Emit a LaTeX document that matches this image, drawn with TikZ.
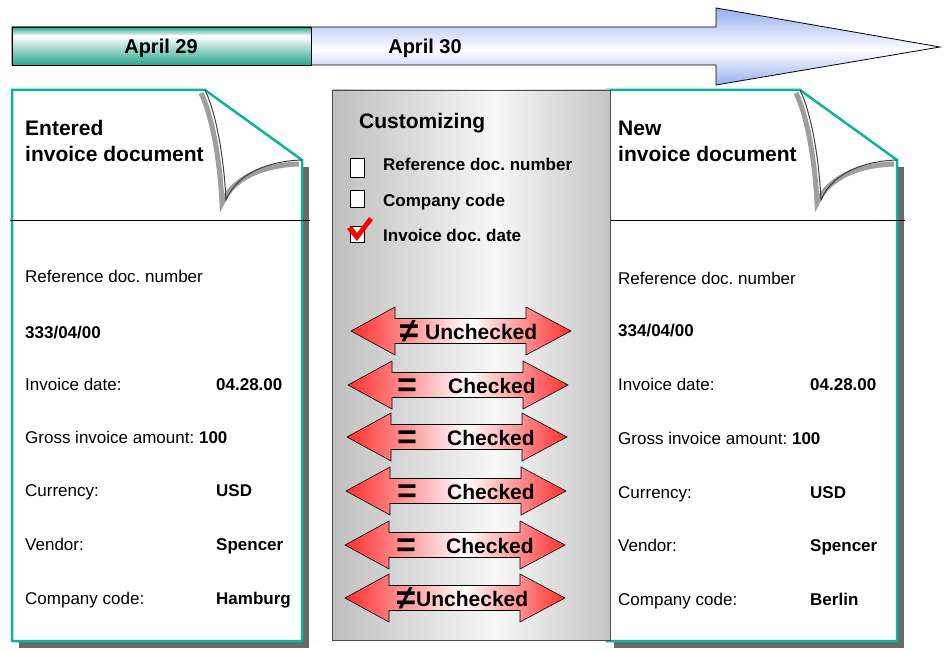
\documentclass[tikz,border=0pt]{standalone}
\usepackage{fontspec}
\setmainfont{Liberation Sans}
\usetikzlibrary{positioning}
\frenchspacing
\definecolor{docteal}{RGB}{10,180,160}
\definecolor{barteal}{RGB}{40,165,140}
\definecolor{barblue}{RGB}{150,172,242}
\definecolor{shadowgray}{RGB}{105,105,105}
\definecolor{cmpred}{RGB}{255,45,45}
\newcommand{\fs}[1]{\fontsize{#1}{#1}\selectfont}

\begin{document}
\begin{tikzpicture}[x=1pt,y=-1pt,
    doc/.style={fill=white,draw=docteal,line width=2.5pt,line join=miter},
    curl/.style={draw=black!75,line width=1pt},
    curlshade/.style={draw=black!38,line width=5pt},
    title/.style={anchor=base west,inner sep=0pt,font=\fs{21}\bfseries},
    txt/.style={anchor=base west,inner sep=0pt,font=\fs{17}},
    val/.style={anchor=base west,inner sep=0pt,font=\fs{17}\bfseries},
    day/.style={anchor=base,inner sep=0pt,font=\fs{20}\bfseries},
    sym/.style={anchor=base,inner sep=0pt,font=\fs{34}\bfseries},
    cmplbl/.style={anchor=base west,inner sep=0pt,font=\fs{21}\bfseries},
    cbox/.style={draw=black,fill=white,line width=0.6pt},
    tlpath/.style={insert path={(12,27) -- (716,27) -- (716,8) -- (940,47)
      -- (716,85) -- (716,65) -- (12,65) -- cycle}},
    cmppath/.style 2 args={insert path={(#1,#2) -- ++(44,-24) -- ++(0,11.5)
      -- ++(131,0) -- ++(0,-11.5) -- ++(45,24) -- ++(-45,24) -- ++(0,-11.5)
      -- ++(-131,0) -- ++(0,11.5) -- cycle}}]

  \useasboundingbox (0,0) rectangle (945,650);

  % time line
  \begin{scope}
    \clip[tlpath];
    \shade[top color=barblue,bottom color=white] (0,7) rectangle (945,50);
    \shade[top color=white,bottom color=barblue] (0,50) rectangle (945,86);
  \end{scope}
  \draw[line width=0.8pt,tlpath];
  \shade[top color=barteal,bottom color=white] (12,27) rectangle (311,36);
  \shade[top color=white,bottom color=barteal] (12,36) rectangle (311,65);
  \draw[line width=0.8pt] (12,27) rectangle (311,65);
  \node[day] (d1) at (161,54) {April 29};
  \node[day] (d2) at (425,54) {April 30};

  % the two documents
  \foreach \dx in {0,595} {
    \begin{scope}[shift={(\dx,0)}]
      \fill[shadowgray] (19,167) rectangle (309,648);
      \draw[doc] (12,90) -- (205,90) -- (302,160) -- (302,641) -- (12,641) -- cycle;
      \draw[curlshade] (201,93) .. controls (213,118) and (220,163) .. (222,203)
        .. controls (234,176) and (266,165) .. (299,164);
      \draw[curl] (205,90) .. controls (217,115) and (224,160) .. (226,200)
        .. controls (238,172) and (270,161) .. (302,160);
      \draw[line width=0.8pt] (10,220) -- (310,220);
    \end{scope}
  }

  \node[title] (e1) at (25,135.5) {Entered};
  \node[title] (e2) at (25,161) {invoice document};
  \node[txt] (l1) at (25,282) {Reference doc. number};
  \node[val] (l2) at (25,338) {333/04/00};
  \node[txt] (l3) at (25,390) {Invoice date:};
  \node[val] (l3v) at (216,390) {04.28.00};
  \node[txt] (l4) at (25,443) {Gross invoice amount: \textbf{100}};
  \node[txt] (l5) at (25,496) {Currency:};
  \node[val] (l5v) at (216,496) {USD};
  \node[txt] (l6) at (25,550) {Vendor:};
  \node[val] (l6v) at (216,550) {Spencer};
  \node[txt] (l7) at (25,604) {Company code:};
  \node[val] (l7v) at (216,604) {Hamburg};

  \node[title] (n1) at (618,135.5) {New};
  \node[title] (n2) at (618,161.5) {invoice document};
  \node[txt] (r1) at (618,284) {Reference doc. number};
  \node[val] (r2) at (618,336) {334/04/00};
  \node[txt] (r3) at (618,390) {Invoice date:};
  \node[val] (r3v) at (810,390) {04.28.00};
  \node[txt] (r4) at (618,444) {Gross invoice amount: \textbf{100}};
  \node[txt] (r5) at (618,498) {Currency:};
  \node[val] (r5v) at (810,498) {USD};
  \node[txt] (r6) at (618,551) {Vendor:};
  \node[val] (r6v) at (810,551) {Spencer};
  \node[txt] (r7) at (618,605) {Company code:};
  \node[val] (r7v) at (810,605) {Berlin};

  % customizing panel
  \shade[left color=gray!50,right color=white!94!gray] (332,90) rectangle (495,640);
  \shade[left color=white!94!gray,right color=gray!45] (495,90) rectangle (610,640);
  \draw[black!70,line width=0.8pt] (332,90) rectangle (610,640);
  \node[title] (cust) at (359,128.5) {Customizing};
  \draw[cbox] (350,158) rectangle (364,177);
  \draw[cbox] (350,190) rectangle (364,207);
  \draw[cbox] (350,226) rectangle (364,242);
  \fill[red] (347,229) -- (352,226) -- (357,233) -- (369,217) -- (373,220) -- (357,241) -- cycle;
  \node[val] (k1) at (383,170) {Reference doc. number};
  \node[val] (k2) at (383,206) {Company code};
  \node[val] (k3) at (383,241) {Invoice doc. date};

  \foreach \i/\yc/\xl/\s/\sx/\lbl/\lx in {1/331/351/≠/409/Unchecked/425,
      2/385/348/=/407/Checked/448, 3/437/347/=/407/Checked/447,
      4/491/346/=/407/Checked/447, 5/545/345/=/406/Checked/446,
      6/598/345/≠/406/Unchecked/416} {
    \begin{scope}
      \clip[cmppath={\xl}{\yc}];
      \shade[left color=cmpred,right color=white] (\xl-1,\yc-25) rectangle (\xl+120,\yc+25);
      \shade[left color=white,right color=cmpred] (\xl+120,\yc-25) rectangle (\xl+221,\yc+25);
    \end{scope}
    \draw[line width=0.6pt,cmppath={\xl}{\yc}];
    \node[sym] (s\i) at (\sx,\yc+11) {\s};
    \node[cmplbl] (c\i) at (\lx,\yc+8) {\lbl};
  }
\end{tikzpicture}
\end{document}
